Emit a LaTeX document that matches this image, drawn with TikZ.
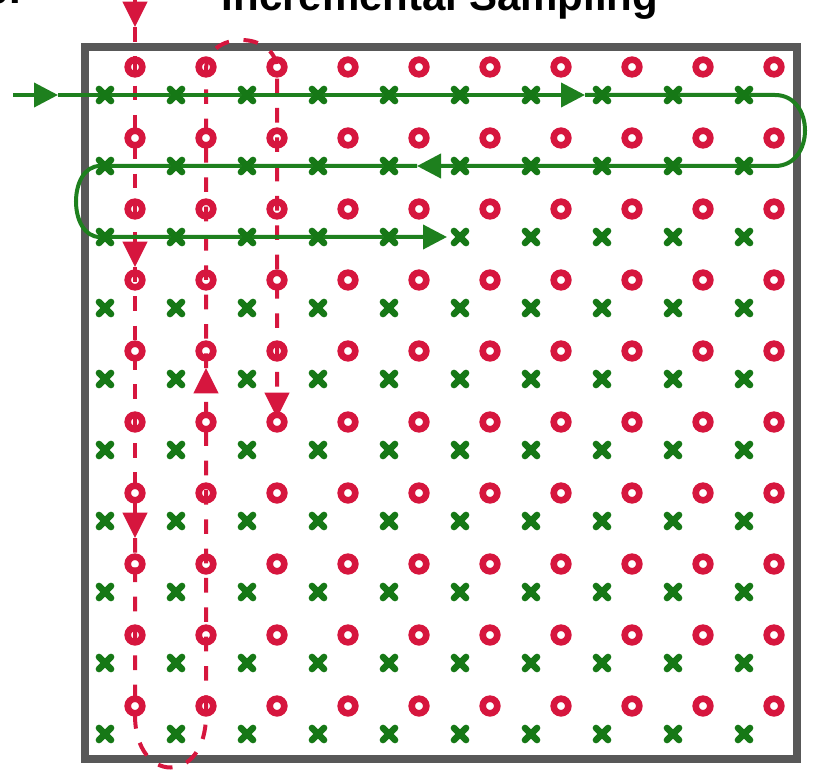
\documentclass[tikz,border=0pt]{standalone}
\usepackage{fontspec}
\setmainfont{Liberation Sans}
\usepackage{xcolor}
\usepackage{tikz}
\usetikzlibrary{arrows.meta}

\definecolor{sampred}{RGB}{214,22,62}
\definecolor{scangreen}{RGB}{30,128,30}
\definecolor{crossgreen}{RGB}{22,120,22}
\definecolor{framegray}{RGB}{88,88,88}

\begin{document}
\begin{tikzpicture}[
        x=0.75pt, y=-0.75pt,
        frame/.style={draw=framegray, line width=6pt},
        sample/.style={draw=sampred, line width=5pt},
        probe/.style={draw=crossgreen, line width=5pt, line cap=round},
        redpath/.style={draw=sampred, line width=3pt, dash pattern=on 11pt off 11pt},
        greenpath/.style={draw=scangreen, line width=3pt},
        redtip/.style={-{Triangle[length=19pt, width=18pt]}},
        greentip/.style={-{Triangle[length=18pt, width=18pt]}},
        title/.style={font=\fontsize{31.5}{36}\selectfont\bfseries, inner sep=0pt}
    ]
        \useasboundingbox (0,0) rectangle (818,770);
        \clip (0,0) rectangle (818,770);

        % Title
        \node[title, anchor=base] (title) at (440,11) {Incremental Sampling};
        \node[title, anchor=base east] (panel) at (21,4) {b.};

        % Frame
        \draw[frame] (85,47) rectangle (797,759);

        % Red path: column by column
        \coordinate (rin) at (135,-30);
        \coordinate (ra) at (135,27);
        \coordinate (rb) at (135,267);
        \coordinate (rc) at (135,538);
        \coordinate (rd) at (135,715);
        \coordinate (re) at (206,715);
        \coordinate (rf) at (206,368);
        \coordinate (rg) at (206,70);
        \coordinate (rh) at (277,70);
        \coordinate (rout) at (277,418);

        \draw[redpath, redtip] (rin) -- (ra);
        \draw[redpath, redtip] (ra) -- (rb);
        \draw[redpath, redtip] (rb) -- (rc);
        \draw[redpath, redtip] (rc) -- (rd) .. controls (135,785) and (206,785) .. (re) -- (rf);
        \draw[redpath, redtip] (rf) -- (rg) .. controls (206,30) and (277,30) .. (rh) -- (rout);

        % Green path: row by row
        \coordinate (gin) at (13,95);
        \coordinate (ga) at (58,95);
        \coordinate (gb) at (585,95);
        \coordinate (gc) at (775,95);
        \coordinate (gd) at (775,166);
        \coordinate (ge) at (417,166);
        \coordinate (gf) at (100,166);
        \coordinate (gg) at (100,237);
        \coordinate (gout) at (447,237);

        \draw[greenpath, greentip] (gin) -- (ga);
        \draw[greenpath, greentip] (ga) -- (gb);
        \draw[greenpath, greentip] (gb) -- (gc) .. controls (815,95) and (815,166) .. (gd) -- (ge);
        \draw[greenpath, greentip] (ge) -- (gf) .. controls (68,166) and (68,237) .. (gg) -- (gout);

        % Samples
        \foreach \i in {0,...,9} {
            \foreach \j in {0,...,9} {
                \draw[sample] (135+71*\i, 67+71*\j) circle (7.3);
                \draw[probe, shift={(105+71*\i, 95+71*\j)}] (-6,-6) -- (6,6) (-6,6) -- (6,-6);
            }
        }
\end{tikzpicture}
\end{document}
